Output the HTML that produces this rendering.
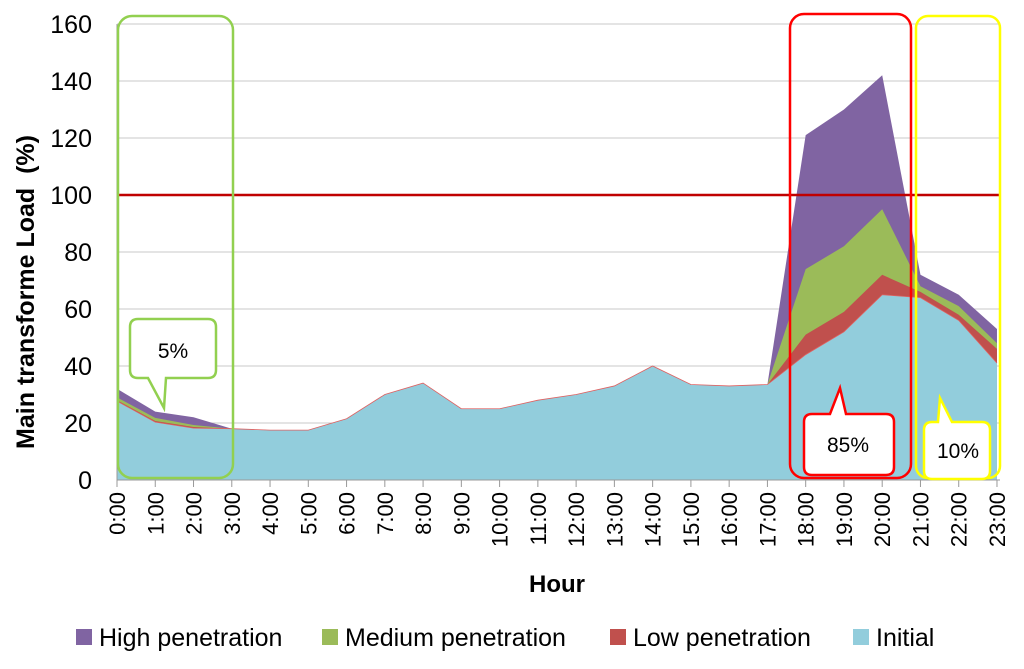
<!DOCTYPE html>
<html><head><meta charset="utf-8"><style>
body{margin:0;background:#fff;font-family:"Liberation Sans",sans-serif}
svg text{font-family:"Liberation Sans",sans-serif}
</style></head><body>
<svg id="c" width="1024" height="664"></svg>
<script>
const hours=["0:00","1:00","2:00","3:00","4:00","5:00","6:00","7:00","8:00","9:00","10:00","11:00","12:00","13:00","14:00","15:00","16:00","17:00","18:00","19:00","20:00","21:00","22:00","23:00"];
const initial=[27.7,20.3,18.2,18,17.5,17.5,21.5,30,34,25,25,28,30,33,40,33.5,33,33.5,44,52,65,64,56,41];
const lowPen=[28,20.7,18.6,18,17.5,17.5,21.5,30,34,25,25,28,30,33,40,33.5,33,33.5,51,59,72,66,58,46];
const medPen=[29,21.8,19.3,18,17.5,17.5,21.5,30,34,25,25,28,30,33,40,33.5,33,33.5,74,82,95,68,61,48];
const highPen=[32,24,22,18,17.5,17.5,21.5,30,34,25,25,28,30,33,40,33.5,33,33.5,121,130,142,72,65,53];
const yTicks=[0,20,40,60,80,100,120,140,160];
const NS="http://www.w3.org/2000/svg",svg=document.getElementById('c');
const X=i=>117+i*38.26, Y=v=>480-v*2.85;
function mk(t,a,p){const e=document.createElementNS(NS,t);for(const k in a)e.setAttribute(k,a[k]);(p||svg).appendChild(e);return e;}
yTicks.forEach(t=>{
 const l=mk('line',{x1:117,x2:1000,y1:Y(t),y2:Y(t),stroke:'#c8c8c8','stroke-width':1});
 
 
 const tx=mk('text',{x:92,y:Y(t)+9,'text-anchor':'end','font-size':25,fill:'#000'});tx.textContent=t;
 
 
});
function area(arr,fill,name){
 let d='M'+X(0)+','+Y(0);arr.forEach((v,i)=>d+=' L'+X(i)+','+Y(v));d+=' L'+X(arr.length-1)+','+Y(0)+' Z';
 const p=mk('path',{d:d,fill:fill});
 
 
}
area(highPen,'#8064a2','area-high-penetration');
area(medPen,'#9bbb59','area-medium-penetration');
area(lowPen,'#c0504d','area-low-penetration');
area(initial,'#92cddc','area-initial');
let dl='';initial.forEach((v,i)=>dl+=(i?' L':'M')+X(i)+','+Y(v));
mk('path',{d:dl,fill:'none',stroke:'#e06060','stroke-width':0.8});
mk('line',{x1:117,x2:117,y1:Y(160),y2:480,stroke:'#999'});
mk('line',{x1:117,x2:1000,y1:480,y2:480,stroke:'#999'});
hours.forEach((h,i)=>{
 mk('line',{x1:X(i),x2:X(i),y1:480,y2:487,stroke:'#999'});
 const t=mk('text',{transform:`translate(${X(i)+8},${492}) rotate(-90)`,'text-anchor':'end','font-size':22,fill:'#000'});t.textContent=h;
 
 
});
const ref=mk('line',{x1:117,x2:1000,y1:Y(100),y2:Y(100),stroke:'#c00000','stroke-width':2.5});


</script>
<svg width="1024" height="664" style="position:absolute;left:0;top:0">
<rect x="118" y="16" width="115" height="462" rx="14" fill="none" stroke="#92d050" stroke-width="2.5"/>
<rect x="790" y="14" width="121" height="464" rx="14" fill="none" stroke="#ff0000" stroke-width="2.5"/>
<rect x="916" y="16" width="84" height="462" rx="12" fill="none" stroke="#ffff00" stroke-width="2.5"/>
<path d="M138,319 H208 Q216,319 216,327 V370 Q216,378 208,378 H166 L164,408 L148,378 H138 Q130,378 130,370 V327 Q130,319 138,319 Z" fill="#fff" stroke="#92d050" stroke-width="2.5"/>
<text x="173" y="358" text-anchor="middle" font-size="21" font-family="Liberation Sans">5%</text>
<path d="M812,414 H830 L840,388 L846,414 H886 Q894,414 894,422 V467 Q894,475 886,475 H812 Q804,475 804,467 V422 Q804,414 812,414 Z" fill="#fff" stroke="#ff0000" stroke-width="2.5"/>
<text x="848" y="452" text-anchor="middle" font-size="21" font-family="Liberation Sans">85%</text>
<path d="M932,422 H938 L940,398 L952,422 H982 Q990,422 990,430 V471 Q990,479 982,479 H932 Q924,479 924,471 V430 Q924,422 932,422 Z" fill="#fff" stroke="#ffff00" stroke-width="2.5"/>
<text x="958" y="458" text-anchor="middle" font-size="21" font-family="Liberation Sans">10%</text>
<text transform="translate(34,292) rotate(-90)" text-anchor="middle" font-size="25" font-weight="bold" font-family="Liberation Sans" xml:space="preserve">Main transforme Load  (%)</text>
<text x="557" y="592" text-anchor="middle" font-size="24" font-weight="bold" font-family="Liberation Sans">Hour</text>
<g font-size="25" font-family="Liberation Sans">
<rect x="76" y="629" width="16" height="16" fill="#8064a2"/><text x="99" y="646">High penetration</text>
<rect x="322" y="629" width="16" height="16" fill="#9bbb59"/><text x="345" y="646">Medium penetration</text>
<rect x="610" y="629" width="16" height="16" fill="#c0504d"/><text x="633" y="646">Low penetration</text>
<rect x="853" y="629" width="16" height="16" fill="#92cddc"/><text x="876" y="646">Initial</text>
</g>
</svg>
</body></html>
